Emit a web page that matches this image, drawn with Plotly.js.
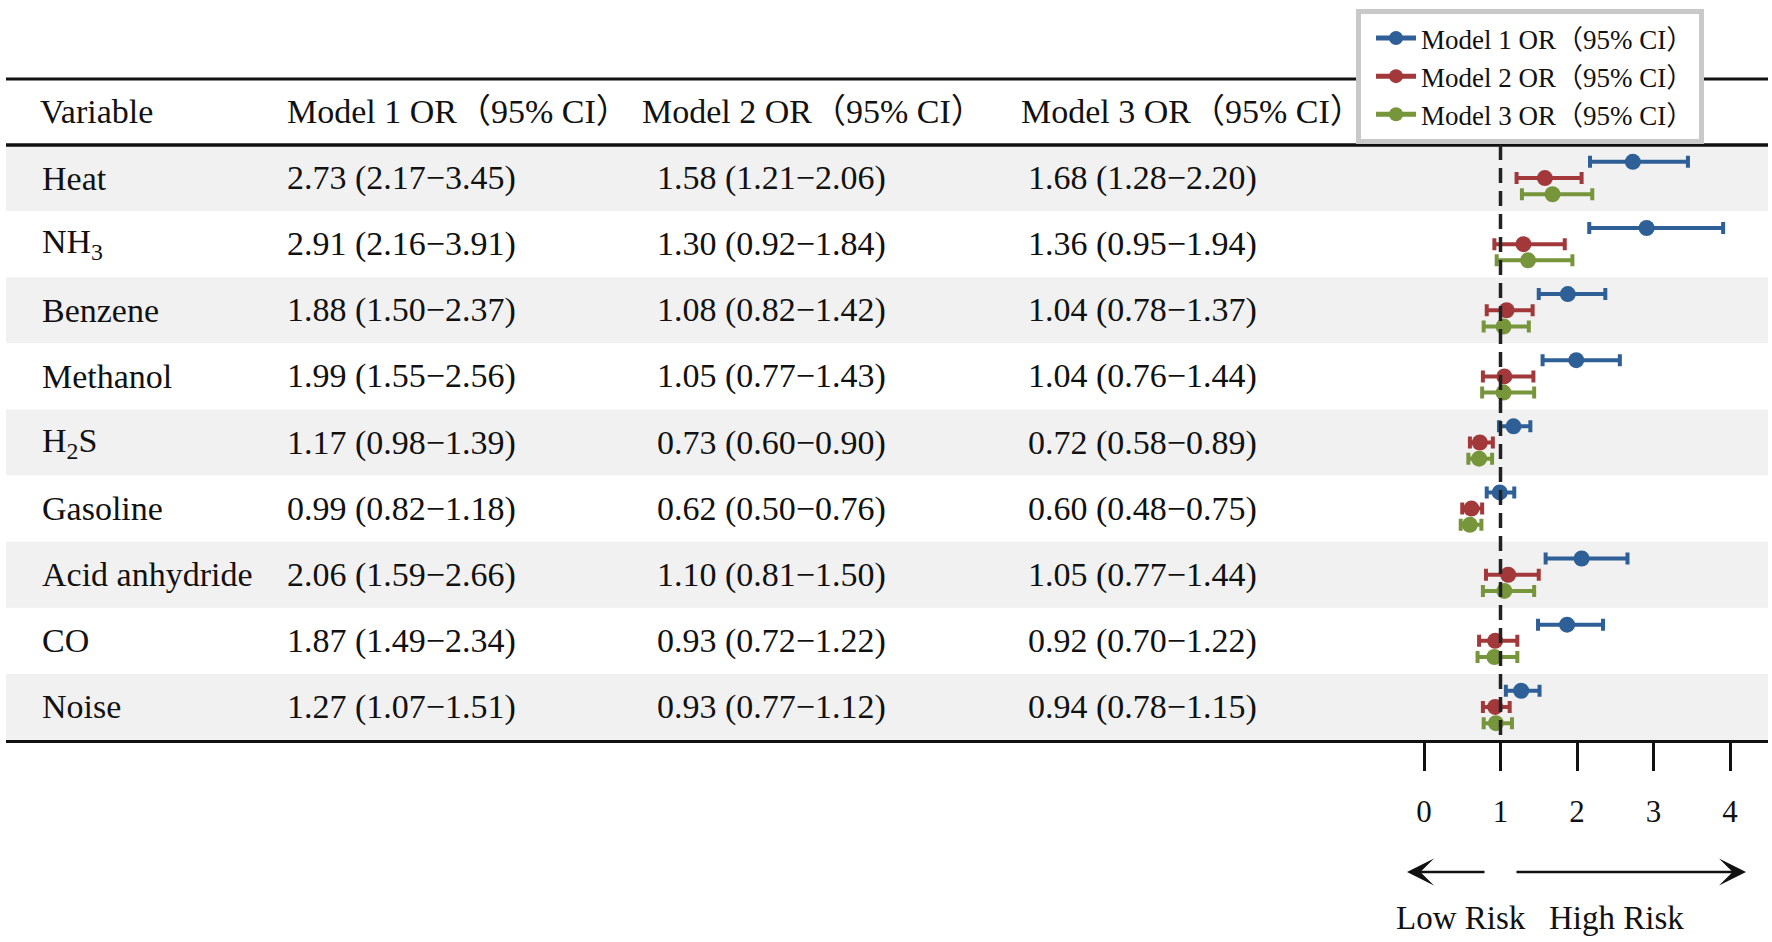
<!DOCTYPE html>
<html>
<head>
<meta charset="utf-8">
<script src="https://cdn.plot.ly/plotly-3.0.1.min.js"></script>
<style>html,body{margin:0;padding:0;background:#fff;}#chart{width:1772px;height:942px;}</style>
</head>
<body>
<div id="chart"></div>
<script>
// ---------- data ----------
const variables = ['Heat', 'NH<sub>3</sub>', 'Benzene', 'Methanol', 'H<sub>2</sub>S', 'Gasoline', 'Acid anhydride', 'CO', 'Noise'];
const modelNames = ['Model 1 OR（95% CI）', 'Model 2 OR（95% CI）', 'Model 3 OR（95% CI）'];

const m1OR = [2.73, 2.91, 1.88, 1.99, 1.17, 0.99, 2.06, 1.87, 1.27];
const m1Lo = [2.17, 2.16, 1.50, 1.55, 0.98, 0.82, 1.59, 1.49, 1.07];
const m1Hi = [3.45, 3.91, 2.37, 2.56, 1.39, 1.18, 2.66, 2.34, 1.51];

const m2OR = [1.58, 1.30, 1.08, 1.05, 0.73, 0.62, 1.10, 0.93, 0.93];
const m2Lo = [1.21, 0.92, 0.82, 0.77, 0.60, 0.50, 0.81, 0.72, 0.77];
const m2Hi = [2.06, 1.84, 1.42, 1.43, 0.90, 0.76, 1.50, 1.22, 1.12];

const m3OR = [1.68, 1.36, 1.04, 1.04, 0.72, 0.60, 1.05, 0.92, 0.94];
const m3Lo = [1.28, 0.95, 0.78, 0.76, 0.58, 0.48, 0.77, 0.70, 0.78];
const m3Hi = [2.20, 1.94, 1.37, 1.44, 0.89, 0.75, 1.44, 1.22, 1.15];

const tickVals = [0, 1, 2, 3, 4];
const tickText = ['0', '1', '2', '3', '4'];

// ---------- styling / layout helpers ----------
const W = 1772, H = 942;
const px = v => v / W;          // x pixel -> paper
const py = v => 1 - v / H;      // y pixel -> paper
const FONT = 'Liberation Serif, "Noto Sans CJK SC", serif';
const colors = ['#2e5f97', '#a2383a', '#77963b'];
const offsets = [-0.245, 0, 0.245];

const models = [
  {or: m1OR, lo: m1Lo, hi: m1Hi},
  {or: m2OR, lo: m2Lo, hi: m2Hi},
  {or: m3OR, lo: m3Lo, hi: m3Hi}
];

// x scale: 0 -> 1424px, 1 unit = 76.5px ; domain spans table width
const x0px = 1424, unit = 76.5, dL = 6, dR = 1768;
const xRange = [(dL - x0px) / unit, (dR - x0px) / unit];

const rowIdx = variables.map((_, i) => i);

const traces = [];
models.forEach((m, k) => {
  traces.push({
    type: 'scatter',
    mode: 'markers',
    name: modelNames[k],
    showlegend: false,
    x: m.or,
    y: rowIdx.map(i => i + offsets[k]),
    marker: {color: colors[k], size: 16},
    error_x: {
      type: 'data', symmetric: false,
      array: m.hi.map((h, i) => h - m.or[i]),
      arrayminus: m.lo.map((l, i) => m.or[i] - l),
      color: colors[k], thickness: 4, width: 6
    },
    hoverinfo: 'skip'
  });
});
// legend entries (icon: bar with marker)
models.forEach((m, k) => {
  traces.push({
    type: 'scatter', mode: 'lines+markers', name: modelNames[k],
    x: [null], y: [null], showlegend: true,
    line: {color: colors[k], width: 5}, marker: {color: colors[k], size: 14},
    hoverinfo: 'skip'
  });
});

// ---------- shapes ----------
const shapes = [];
rowIdx.forEach(i => {
  if (i % 2 === 0) {
    shapes.push({type: 'rect', xref: 'paper', yref: 'y', x0: px(dL), x1: px(dR),
      y0: i - 0.5, y1: i + 0.5, fillcolor: '#f1f1f1', line: {width: 0}, layer: 'below'});
  }
});
shapes.push({type: 'line', xref: 'paper', yref: 'paper', x0: px(dL), x1: px(dR), y0: py(79), y1: py(79), line: {color: '#111', width: 3}});
shapes.push({type: 'line', xref: 'paper', yref: 'paper', x0: px(dL), x1: px(dR), y0: py(145), y1: py(145), line: {color: '#111', width: 3.5}});
shapes.push({type: 'line', xref: 'x', yref: 'y', x0: 1, x1: 1, y0: -0.5, y1: 8.5, line: {color: '#222', width: 3.5, dash: '15px,8px'}});

// ---------- annotations (table text) ----------
const ann = [];
const txtFont = {family: FONT, size: 34, color: '#111'};
const headers = ['Variable', modelNames[0], modelNames[1], modelNames[2]];
const headerX = [38, 285, 640, 1019];
headers.forEach((h, j) => {
  ann.push({text: h, xref: 'paper', yref: 'paper', x: px(headerX[j]), y: py(112),
    xanchor: 'left', yanchor: 'middle', showarrow: false, font: txtFont});
});
const colX = [285, 655, 1026];
const fmt = (o, l, h) => `${o.toFixed(2)} (${l.toFixed(2)}−${h.toFixed(2)})`;
rowIdx.forEach(i => {
  ann.push({text: variables[i], xref: 'paper', yref: 'y', x: px(40), y: i,
    xanchor: 'left', yanchor: 'middle', showarrow: false, font: txtFont});
  models.forEach((m, k) => {
    ann.push({text: fmt(m.or[i], m.lo[i], m.hi[i]), xref: 'paper', yref: 'y', x: px(colX[k]), y: i,
      xanchor: 'left', yanchor: 'middle', showarrow: false, font: txtFont});
  });
});
// arrows
const arrowY = py(872);
ann.push({xref: 'x', yref: 'paper', x: (1407 - x0px) / unit, y: arrowY, axref: 'x', ax: (1486 - x0px) / unit,
  ayref: 'pixel', ay: 0, showarrow: true, arrowhead: 3, arrowsize: 1.8, arrowwidth: 2.5, arrowcolor: '#111', text: ''});
ann.push({xref: 'x', yref: 'paper', x: (1746 - x0px) / unit, y: arrowY, axref: 'x', ax: (1515 - x0px) / unit,
  ayref: 'pixel', ay: 0, showarrow: true, arrowhead: 3, arrowsize: 1.8, arrowwidth: 2.5, arrowcolor: '#111', text: ''});
ann.push({text: 'Low Risk', xref: 'paper', yref: 'paper', x: px(1461), y: py(918), xanchor: 'center', yanchor: 'middle',
  showarrow: false, font: {family: FONT, size: 33, color: '#111'}});
ann.push({text: 'High Risk', xref: 'paper', yref: 'paper', x: px(1616), y: py(918), xanchor: 'center', yanchor: 'middle',
  showarrow: false, font: {family: FONT, size: 33, color: '#111'}});

const layout = {
  width: W, height: H,
  margin: {l: 0, r: 0, t: 0, b: 0, pad: 0},
  paper_bgcolor: '#fff', plot_bgcolor: 'rgba(0,0,0,0)',
  font: {family: FONT, color: '#111'},
  xaxis: {
    domain: [px(dL), px(dR)], range: xRange, autorange: false,
    showgrid: false, zeroline: false, showline: true, linecolor: '#111', linewidth: 3,
    tickmode: 'array', tickvals: tickVals, ticktext: tickText,
    ticks: 'outside', ticklen: 28, tickwidth: 3, tickcolor: '#111',
    ticklabelstandoff: 14,
    tickfont: {family: FONT, size: 31, color: '#111'}, fixedrange: true
  },
  yaxis: {
    domain: [py(740), py(145)], range: [8.5, -0.5], autorange: false,
    visible: false, showgrid: false, zeroline: false, fixedrange: true
  },
  showlegend: true,
  legend: {
    x: px(1356), y: py(9), xanchor: 'left', yanchor: 'top',
    bgcolor: '#fff', bordercolor: '#c9c9c9', borderwidth: 5,
    itemwidth: 40, tracegroupgap: 0, indentation: 10,
    font: {family: FONT, size: 27, color: '#111'}
  },
  shapes: shapes,
  annotations: ann
};

Plotly.newPlot('chart', traces, layout, {staticPlot: true, displayModeBar: false});
</script>
</body>
</html>
